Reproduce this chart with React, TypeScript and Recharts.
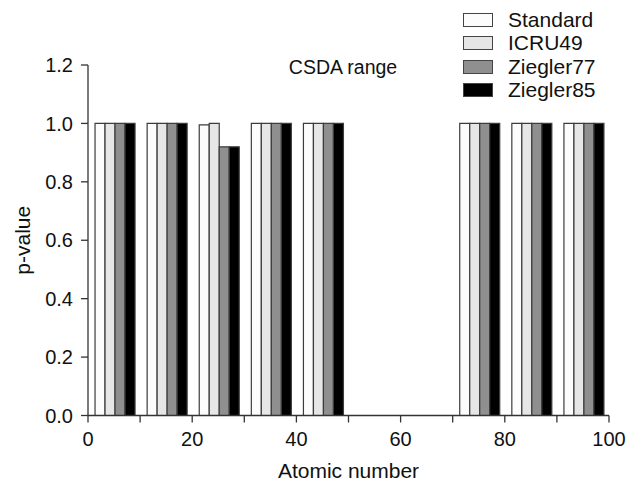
import React from 'react';
import { BarChart, Bar, XAxis, YAxis, Legend } from 'recharts';

// atomic numbers of the groups (55 and 65 have no data)
const atomicNumbers = [5, 15, 25, 35, 45, 55, 65, 75, 85, 95];
const standard = [1.0, 1.0, 0.995, 1.0, 1.0, null, null, 1.0, 1.0, 1.0];
const icru49 = [1.0, 1.0, 1.0, 1.0, 1.0, null, null, 1.0, 1.0, 1.0];
const ziegler77 = [1.0, 1.0, 0.92, 1.0, 1.0, null, null, 1.0, 1.0, 1.0];
const ziegler85 = [1.0, 1.0, 0.92, 1.0, 1.0, null, null, 1.0, 1.0, 1.0];

const xTicks = [0, 10, 20, 30, 40, 50, 60, 70, 80, 90, 100];
const yTicks = [0, 0.2, 0.4, 0.6, 0.8, 1.0, 1.2];

const series = [
  { key: 'standard', name: 'Standard', color: '#fcfcfc' },
  { key: 'icru49', name: 'ICRU49', color: '#e6e6e6' },
  { key: 'ziegler77', name: 'Ziegler77', color: '#8f8f8f' },
  { key: 'ziegler85', name: 'Ziegler85', color: '#000000' },
];

const data = atomicNumbers.map((z, i) => ({
  z,
  standard: standard[i],
  icru49: icru49[i],
  ziegler77: ziegler77[i],
  ziegler85: ziegler85[i],
}));

const FONT = '"Liberation Sans", Arial, Helvetica, sans-serif';
const AXIS = '#333';

const renderLegend = () => (
  <div style={{ fontFamily: FONT, fontSize: 21, color: '#111' }}>
    {series.map((s) => (
      <div key={s.key} style={{ display: 'flex', alignItems: 'center', height: 23.5 }}>
        <div
          style={{
            width: 28,
            height: 12,
            background: s.color,
            border: '1.5px solid #444',
            marginRight: 15,
          }}
        />
        <span>{s.name}</span>
      </div>
    ))}
  </div>
);

export default function App() {
  return (
    <div style={{ position: 'relative', width: 625, height: 476, fontFamily: FONT }}>
      <BarChart
        width={625}
        height={476}
        data={data}
        margin={{ top: 57, right: 24, left: 0, bottom: 0 }}
        barGap={0}
        barCategoryGap="13.5%"
      >
        <XAxis
          dataKey="z"
          type="number"
          domain={[0, 100]}
          ticks={xTicks}
          interval={0}
          allowDataOverflow
          height={68.5}
          stroke={AXIS}
          strokeWidth={1.3}
          tickSize={7}
          tickMargin={9}
          tick={{ fill: '#111', fontSize: 20, fontFamily: FONT }}
          tickFormatter={(v: number) => (v % 20 === 0 ? String(v) : '')}
          label={{
            value: 'Atomic number',
            position: 'insideBottom',
            offset: 6,
            fill: '#111',
            fontSize: 21,
            fontFamily: FONT,
          }}
        />
        <YAxis
          domain={[0, 1.2]}
          ticks={yTicks}
          width={80}
          stroke={AXIS}
          strokeWidth={1.3}
          tickSize={7}
          tickMargin={8}
          tick={{ fill: '#111', fontSize: 20, fontFamily: FONT }}
          tickFormatter={(v: number) => v.toFixed(1)}
          label={{
            value: 'p-value',
            angle: -90,
            position: 'insideLeft',
            offset: 15,
            fill: '#111',
            fontSize: 21,
            fontFamily: FONT,
            style: { textAnchor: 'middle' },
          }}
        />
        <Legend
          layout="vertical"
          align="center"
          verticalAlign="middle"
          content={renderLegend}
          wrapperStyle={{ left: 455, top: 0, width: 170 }}
        />
        {series.map((s) => (
          <Bar
            key={s.key}
            dataKey={s.key}
            name={s.name}
            fill={s.color}
            stroke="#3c3c3c"
            strokeWidth={1.2}
            isAnimationActive={false}
          />
        ))}
      </BarChart>
      <div
        style={{
          position: 'absolute',
          left: 335,
          top: 48,
          transform: 'translateX(-50%)',
          fontSize: 19.5,
          color: '#111',
          whiteSpace: 'nowrap',
        }}
      >
        CSDA range
      </div>
    </div>
  );
}
